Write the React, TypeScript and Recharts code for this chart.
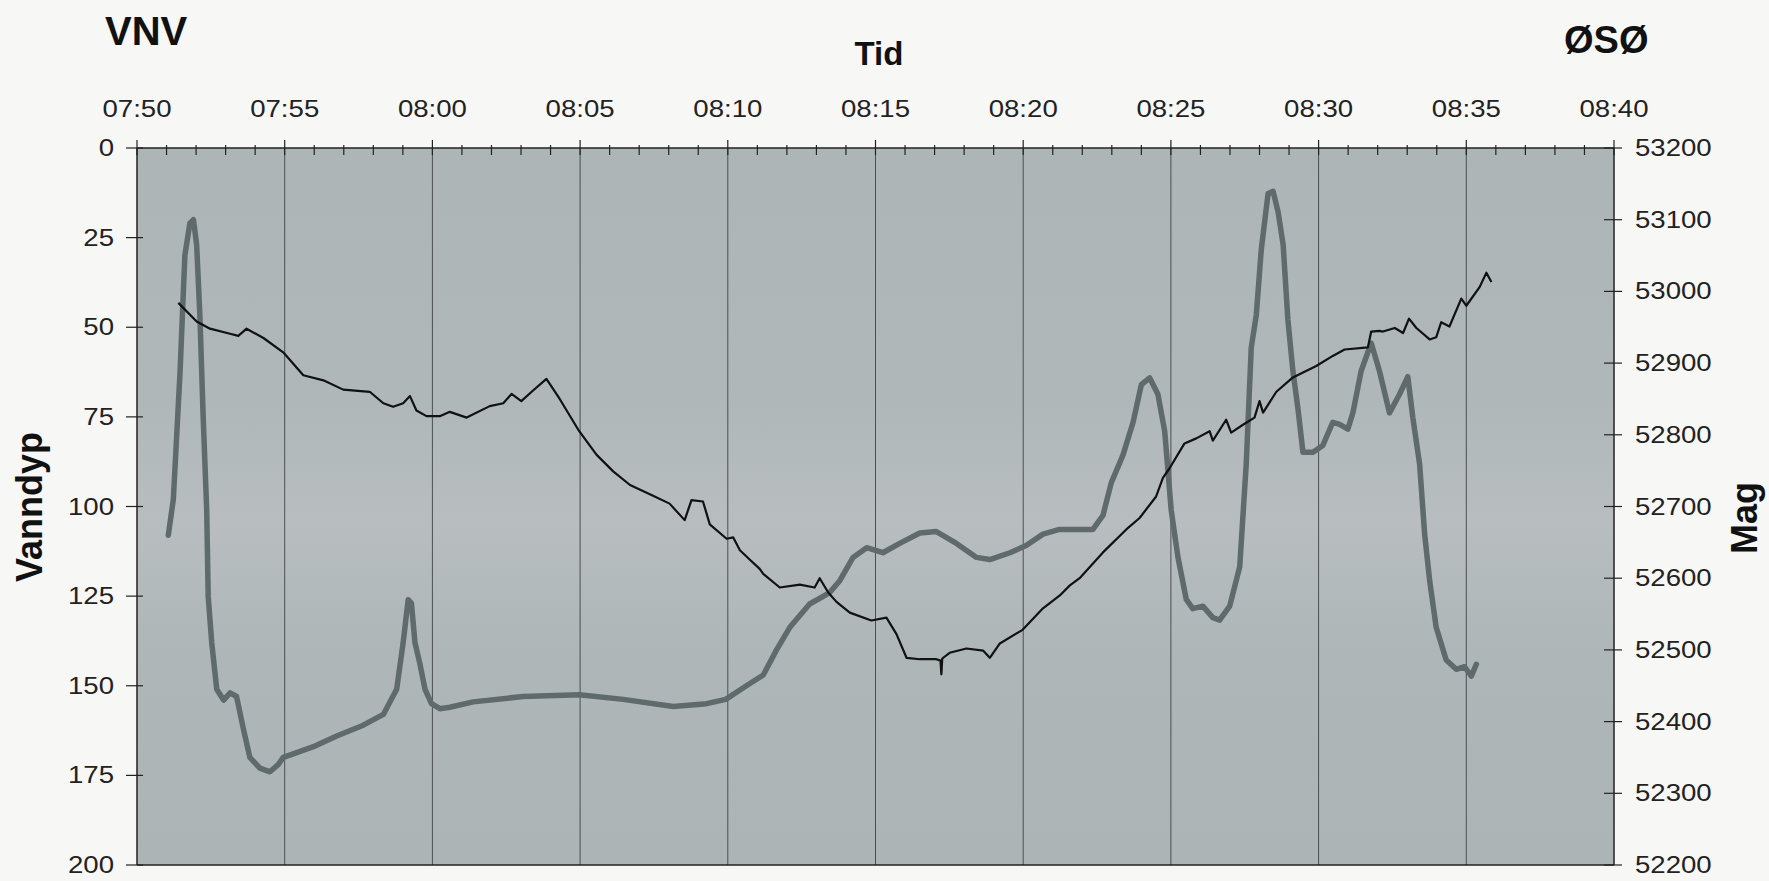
import { LineChart, Line, XAxis, YAxis, CartesianGrid, ReferenceLine } from "recharts";

// Minutes after 07:50 and water depth (m)
const depthMin = [
  1.06, 1.23, 1.46, 1.62, 1.79, 1.91, 2.02, 2.13, 2.24, 2.36, 2.41, 2.53, 2.7, 2.93, 3.15, 3.37, 3.6, 3.82,
  4.16, 4.5, 4.78, 4.95, 5.29, 5.97, 6.76, 7.66, 8.34, 8.79, 9.01, 9.18, 9.29, 9.41, 9.58, 9.75, 9.97, 10.25,
  10.59, 11.38, 13.07, 14.97, 16.46, 18.15, 19.28, 19.93, 20.63, 21.2, 21.65, 22.1, 22.77, 23.45, 23.79,
  24.24, 24.7, 25.25, 25.82, 26.5, 27.06, 27.74, 28.42, 28.87, 29.55, 30.1, 30.67, 31.23, 32.36, 32.7,
  32.98, 33.38, 33.72, 34.0, 34.28, 34.56, 34.79, 35.01, 35.24, 35.52, 35.74, 36.08, 36.42, 36.65, 36.99,
  37.33, 37.55, 37.72, 37.89, 38.06, 38.29, 38.46, 38.63, 38.8, 38.96, 39.13, 39.3, 39.47, 39.81, 40.14,
  40.48, 40.71, 40.99, 41.16, 41.44, 41.78, 42.06, 42.4, 42.74, 43.02, 43.19, 43.42, 43.59, 43.76, 43.98,
  44.32, 44.66, 44.94, 45.17, 45.34,
];
const depthM = [
  108, 98, 62, 30, 21, 20, 27, 47, 75, 101, 125, 138, 151, 154, 152, 153, 162, 170,
  173, 174, 172, 170, 169, 167, 164, 161, 158, 151, 138, 126, 127, 138, 144, 151, 155, 156.4,
  156, 154.5, 153, 152.5, 153.8, 155.8, 155, 153.8, 150, 147, 140, 133.7, 127.2, 124, 120.7,
  114.2, 111.5, 112.9, 110.3, 107.4, 107, 110.3, 114.2, 114.8, 112.9, 110.9, 107.7, 106.4, 106.4, 102.5,
  93.4, 85.6, 76.5, 66, 64.1, 68.7, 79, 101, 114.2, 125.9, 128.5, 127.8, 131, 131.7, 127.8,
  116.8, 88.2, 55.7, 46.6, 28.3, 12.7, 12.1, 17.9, 27, 47.9, 62.2, 72.6, 84.9, 84.9, 83,
  76.5, 77.1, 78.4, 73.9, 62.2, 54.4, 62.2, 73.9, 68.7, 63.8, 75.2, 88.2, 107.7, 120.7, 133.7,
  142.8, 145.4, 144.7, 147.3, 144,
];

// Minutes after 07:50 and total magnetic field (nT)
const magMin = [
  1.4, 2.02, 2.47, 3.15, 3.43, 3.71, 4.28, 4.95, 5.63, 6.31, 6.98, 7.88, 8.34, 8.67, 9.01, 9.24, 9.46, 9.8,
  10.25, 10.59, 11.16, 11.94, 12.4, 12.68, 13.01, 13.36, 13.86, 14.31, 14.97, 15.56, 16.12, 16.69, 17.47,
  18.03, 18.54, 18.77, 19.16, 19.39, 19.96, 20.18, 20.41, 20.74, 21.08, 21.2, 21.76, 22.44, 22.94, 23.11,
  23.4, 23.68, 24.13, 24.86, 25.37, 25.71, 26.05, 26.5, 27.06, 27.2, 27.23, 27.26, 27.51, 28.08, 28.64,
  28.87, 29.21, 29.98, 30.67, 31.24, 31.58, 31.91, 32.7, 33.49, 33.94, 34.5, 34.73, 34.95, 35.46, 35.86,
  36.31, 36.42, 36.87, 37.04, 37.44, 37.83, 38.0, 38.12, 38.57, 39.13, 39.92, 40.48, 40.88, 41.67, 41.78,
  42.06, 42.18, 42.58, 42.86, 43.06, 43.31, 43.76, 43.98, 44.15, 44.43, 44.83, 45.0, 45.45, 45.68, 45.85,
];
const magNT = [
  52984, 52958, 52948, 52941, 52938, 52948, 52935, 52915, 52883, 52876, 52863, 52860, 52844, 52839, 52844,
  52854, 52834, 52826, 52826, 52832, 52824, 52840, 52844, 52857, 52847, 52860, 52878, 52850, 52805, 52772,
  52749, 52730, 52715, 52704, 52681, 52709, 52707, 52675, 52655, 52657, 52639, 52626, 52613, 52606, 52587,
  52591, 52587, 52600, 52580, 52567, 52552, 52541, 52545, 52522, 52489, 52487, 52487, 52485, 52466, 52488,
  52496, 52502, 52499, 52489, 52509, 52528, 52558, 52576, 52590, 52600, 52636, 52668, 52684, 52714, 52740,
  52753, 52788, 52795, 52805, 52792, 52821, 52803, 52814, 52824, 52847, 52831, 52860, 52880, 52896, 52910,
  52919, 52922, 52944, 52945, 52944, 52949, 52942, 52962, 52949, 52933, 52936, 52957, 52951, 52990, 52980,
  53006, 53026, 53013,
];

const minuteTicks = Array.from({ length: 51 }, (_, i) => i);
const gridMinutes = [5, 10, 15, 20, 25, 30, 35, 40, 45];
const depthTicks = [0, 25, 50, 75, 100, 125, 150, 175, 200];
const magTicks = [52200, 52300, 52400, 52500, 52600, 52700, 52800, 52900, 53000, 53100, 53200];

const depthData = depthMin.map((t, i) => ({ t, depth: depthM[i] }));
const magData = magMin.map((t, i) => ({ t, mag: magNT[i] }));

const FONT = '"Liberation Sans", Arial, Helvetica, sans-serif';
const INK = "#222";

function clock(m: number) {
  const total = 7 * 60 + 50 + m;
  const h = Math.floor(total / 60);
  const mm = total % 60;
  return `${String(h).padStart(2, "0")}:${String(mm).padStart(2, "0")}`;
}

function TimeTick({ x, y, payload }: any) {
  const m = payload.value as number;
  const major = m % 5 === 0;
  return (
    <g>
      <line x1={x} x2={x} y1={y - (major ? 8 : 3)} y2={y + 7} stroke={INK} strokeWidth={1.2} />
      {major && (
        <text
          transform={`translate(${x},${y - 31}) scale(1.2,1)`}
          textAnchor="middle"
          fontSize={23}
          fontFamily={FONT}
          fill={INK}
        >
          {clock(m)}
        </text>
      )}
    </g>
  );
}

function DepthTick({ x, y, payload }: any) {
  return (
    <g>
      <line x1={x - 11} x2={x + 6} y1={y} y2={y} stroke={INK} strokeWidth={1.2} />
      <text
        transform={`translate(${x - 23},${y + 8}) scale(1.2,1)`}
        textAnchor="end"
        fontSize={23}
        fontFamily={FONT}
        fill={INK}
      >
        {payload.value}
      </text>
    </g>
  );
}

function MagTick({ x, y, payload }: any) {
  return (
    <g>
      <line x1={x - 10} x2={x + 8} y1={y} y2={y} stroke={INK} strokeWidth={1.2} />
      <text
        transform={`translate(${x + 21},${y + 8}) scale(1.2,1)`}
        textAnchor="start"
        fontSize={23}
        fontFamily={FONT}
        fill={INK}
      >
        {payload.value}
      </text>
    </g>
  );
}

const titleStyle = { fontFamily: FONT, fontWeight: 700, fill: "#111" };

export default function App() {
  return (
    <div style={{ position: "relative", width: 1769, height: 881, background: "#f7f7f6" }}>
      <style>{`body{margin:0}`}</style>
      <LineChart width={1769} height={881} margin={{ top: 88, right: 55, bottom: 16, left: 57 }}>
        <defs>
          <linearGradient id="plotBg" x1="0" y1="0" x2="0" y2="1">
            <stop offset="0%" stopColor="#aeb5b7" />
            <stop offset="35%" stopColor="#b0b7b9" />
            <stop offset="52%" stopColor="#b8bec0" />
            <stop offset="70%" stopColor="#afb6b8" />
            <stop offset="100%" stopColor="#adb4b6" />
          </linearGradient>
        </defs>
        <CartesianGrid xAxisId="t" yAxisId="depth" horizontal={false} vertical={false} fill="url(#plotBg)" />
        <XAxis
          xAxisId="t"
          type="number"
          dataKey="t"
          orientation="top"
          domain={[0, 50]}
          ticks={minuteTicks}
          interval={0}
          height={60}
          tickSize={0}
          tickMargin={0}
          tickLine={false}
          axisLine={{ stroke: INK, strokeWidth: 1.5 }}
          tick={(p: any) => <TimeTick {...p} />}
          allowDataOverflow
        />
        <YAxis
          yAxisId="depth"
          orientation="left"
          reversed
          domain={[0, 200]}
          ticks={depthTicks}
          interval={0}
          width={80}
          tickSize={0}
          tickMargin={0}
          tickLine={false}
          axisLine={{ stroke: INK, strokeWidth: 1.5 }}
          tick={(p: any) => <DepthTick {...p} />}
        />
        <YAxis
          yAxisId="mag"
          orientation="right"
          domain={[52200, 53200]}
          ticks={magTicks}
          interval={0}
          width={100}
          tickSize={0}
          tickMargin={0}
          tickLine={false}
          axisLine={{ stroke: INK, strokeWidth: 1.5 }}
          tick={(p: any) => <MagTick {...p} />}
        />
        {gridMinutes.map((m) => (
          <ReferenceLine key={m} xAxisId="t" yAxisId="depth" x={m} stroke="#4a4f51" strokeWidth={1} />
        ))}
        <ReferenceLine xAxisId="t" yAxisId="depth" y={200} stroke={INK} strokeWidth={1.5} />
        <Line
          xAxisId="t"
          yAxisId="depth"
          data={depthData}
          dataKey="depth"
          type="linear"
          stroke="#5f6a6c"
          strokeWidth={5.5}
          strokeLinejoin="round"
          strokeLinecap="round"
          dot={false}
          isAnimationActive={false}
        />
        <Line
          xAxisId="t"
          yAxisId="mag"
          data={magData}
          dataKey="mag"
          type="linear"
          stroke="#111"
          strokeWidth={2.2}
          strokeLinejoin="round"
          dot={false}
          isAnimationActive={false}
        />
      </LineChart>
      <svg width={1769} height={881} style={{ position: "absolute", left: 0, top: 0, pointerEvents: "none" }}>
        <text x={105} y={45} fontSize={40} {...titleStyle}>VNV</text>
        <text x={1564} y={53} fontSize={38} {...titleStyle}>ØSØ</text>
        <text x={879} y={65} fontSize={33} textAnchor="middle" {...titleStyle}>Tid</text>
        <text x={42} y={507} fontSize={36} textAnchor="middle" transform="rotate(-90 42 507)" {...titleStyle}>
          Vanndyp
        </text>
        <text x={1757} y={518} fontSize={36} textAnchor="middle" transform="rotate(-90 1757 518)" {...titleStyle}>
          Mag
        </text>
      </svg>
    </div>
  );
}
